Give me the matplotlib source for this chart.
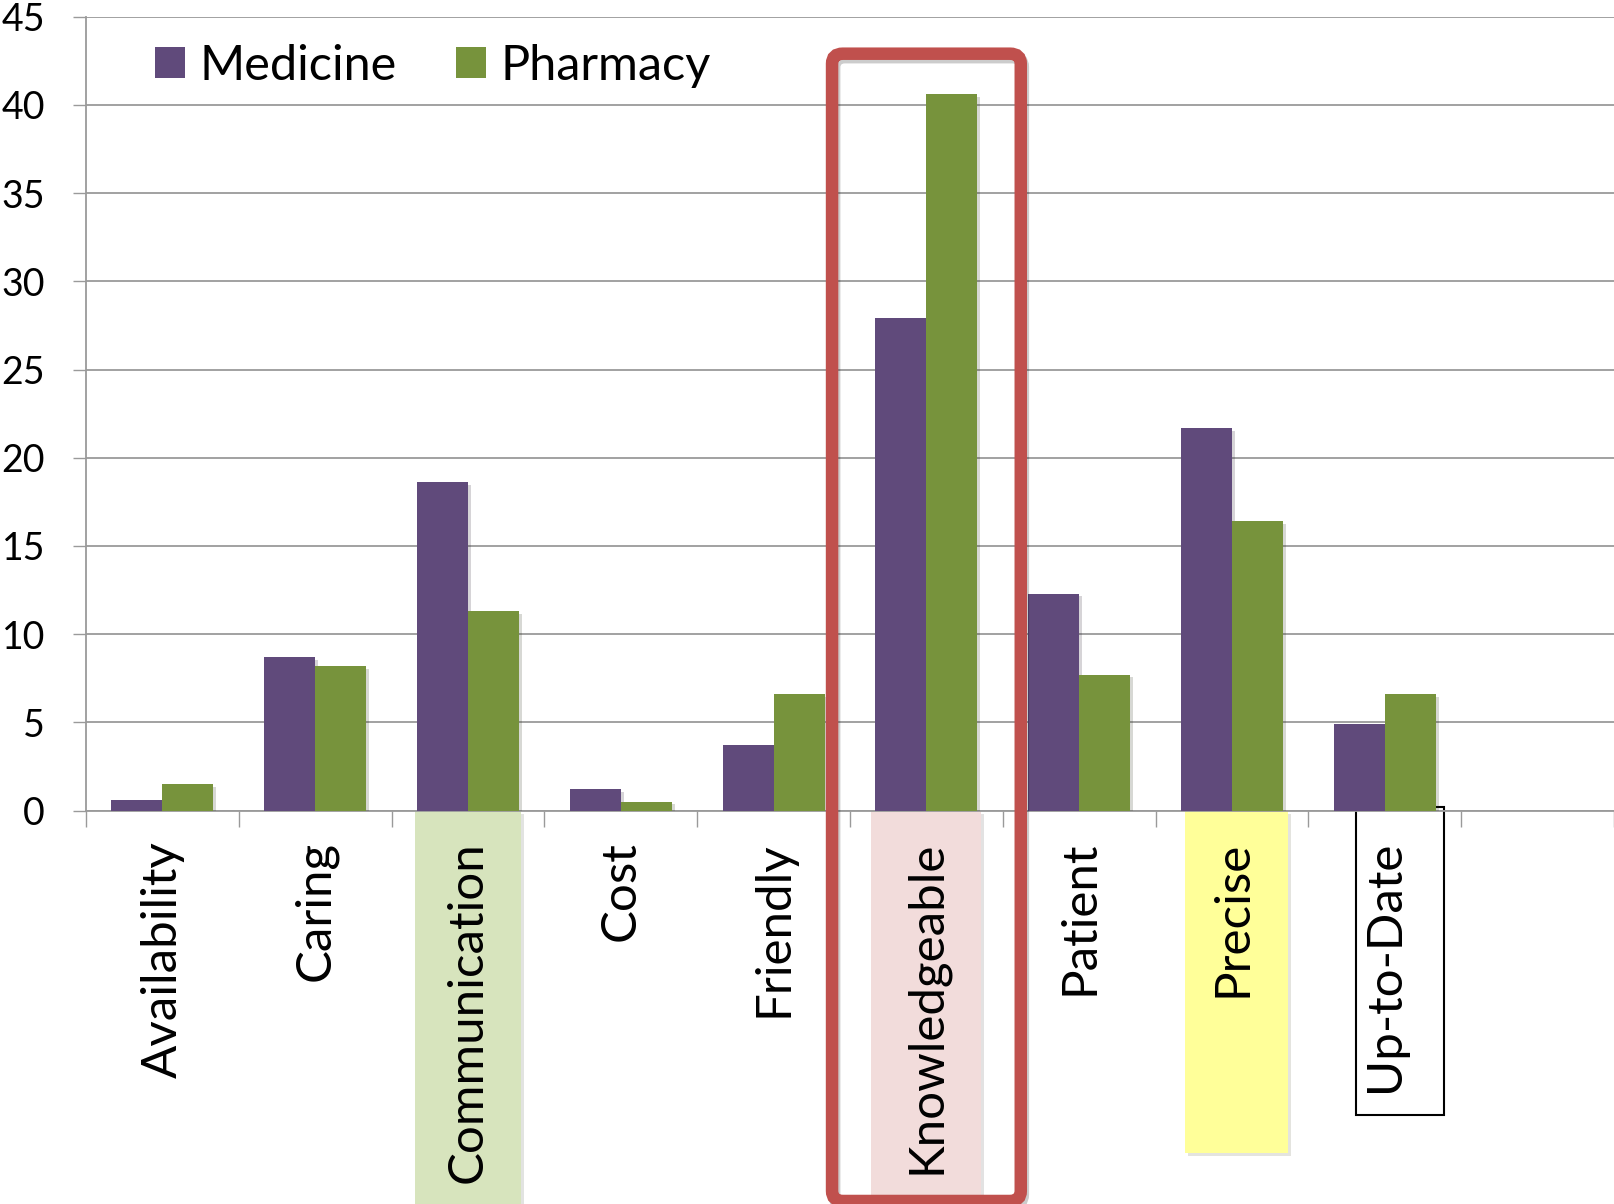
import numpy as np
import matplotlib
matplotlib.use("Agg")
import matplotlib.pyplot as plt
from matplotlib.patches import Rectangle, FancyBboxPatch, Patch
from matplotlib import transforms
import matplotlib.patheffects as pe

plt.rcParams['font.family'] = ['Lato', 'DejaVu Sans']

categories = ['Availability', 'Caring', 'Communication', 'Cost', 'Friendly',
              'Knowledgeable', 'Patient', 'Precise', 'Up-to-Date']
medicine = [0.6, 8.7, 18.6, 1.2, 3.7, 27.9, 12.3, 21.7, 4.9]
pharmacy = [1.5, 8.2, 11.3, 0.5, 6.6, 40.6, 7.7, 16.4, 6.6]
n_slots = 10  # one empty slot after the last category

purple = '#604A7B'
green = '#77933C'
grid_col = '#9A9A9A'

fig = plt.figure(figsize=(16.14, 12.04), dpi=100)
ax = fig.add_axes([0.0533, 0.3268, 0.9467, 0.6593])

x = np.arange(len(categories))
w = 1 / 3
shadow = [pe.SimplePatchShadow(offset=(2, -2), alpha=0.18), pe.Normal()]
b1 = ax.bar(x - w / 2, medicine, w, color=purple, zorder=3)
b2 = ax.bar(x + w / 2, pharmacy, w, color=green, zorder=3)
for b in list(b1) + list(b2):
    b.set_path_effects(shadow)

ax.set_xlim(-0.5, n_slots - 0.5)
ax.set_ylim(0, 45)
ax.set_yticks(np.arange(0, 46, 5))
ax.yaxis.grid(True, color=grid_col, linewidth=1.3)
ax.set_axisbelow(True)

ax.set_xticks(np.arange(-0.5, n_slots, 1))
ax.set_xticklabels([])
ax.set_xticks(x, minor=True)
ax.set_xticklabels(categories, minor=True, rotation=90, va='top', ha='center')
ax.tick_params(axis='x', which='major', length=11.5, width=1, color=grid_col, direction='out')
ax.tick_params(axis='x', which='minor', length=0, pad=22, labelsize=35.5)
ax.tick_params(axis='y', length=9.5, width=1, color=grid_col, direction='out', pad=20, labelsize=27)

for side in ['top', 'right']:
    ax.spines[side].set_visible(False)
for side in ['left', 'bottom']:
    ax.spines[side].set_color(grid_col)
    ax.spines[side].set_linewidth(1.3)

# highlight boxes behind some category labels (x in data, y in figure fraction)
trans = transforms.blended_transform_factory(ax.transData, fig.transFigure)
boxes = [
    (2.0, 0.70, 0.000, 0.3264, '#D7E4BD', 'none'),
    (5.0, 0.72, 0.004, 0.3264, '#F2DCDB', 'none'),
    (7.03, 0.67, 0.0424, 0.3264, '#FFFF99', 'none'),
    (8.1, 0.58, 0.0739, 0.3300, 'white', 'black'),
]
for cx, bw, y0, y1, fc, ec in boxes:
    r = Rectangle((cx - bw / 2, y0), bw, y1 - y0, transform=trans, facecolor=fc,
                  edgecolor=ec, linewidth=1.5, clip_on=False, zorder=0.2)
    if ec == 'none':
        r.set_path_effects([pe.SimplePatchShadow(offset=(2, -2), alpha=0.15), pe.Normal()])
    ax.add_patch(r)

# red frame around Knowledgeable
frame = FancyBboxPatch((5 - 0.6175, 0.0025), 1.235, 0.9554 - 0.0025,
                       boxstyle='round,pad=0,rounding_size=0.07',
                       mutation_aspect=0.12, transform=trans, facecolor='none',
                       edgecolor='#C0504D', linewidth=9, clip_on=False, zorder=5)
frame.set_path_effects([pe.SimpleLineShadow(offset=(1.5, -2.5), shadow_color='black',
                                            alpha=0.2), pe.Normal()])
ax.add_patch(frame)

handles = [Patch(facecolor=purple), Patch(facecolor=green)]
ax.legend(handles, ['Medicine', 'Pharmacy'], loc='upper left', ncol=2,
          bbox_to_anchor=(0.045, 0.966), frameon=False, fontsize=35,
          handlelength=0.62, handleheight=0.62, handletextpad=0.31,
          columnspacing=1.2, borderpad=0, borderaxespad=0)

fig.savefig('out.png', dpi=100)
